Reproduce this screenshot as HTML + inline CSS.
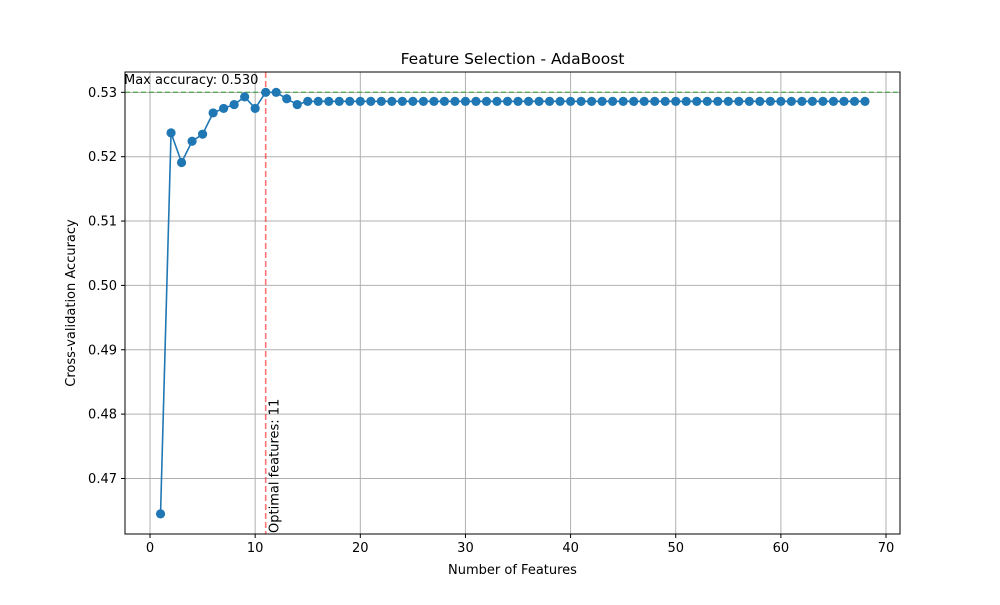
<!DOCTYPE html>
<html><head><meta charset="utf-8"><style>
body{margin:0;background:#fff;font-family:"Liberation Sans","DejaVu Sans",sans-serif}
svg text{font-family:"DejaVu Sans","Liberation Sans",sans-serif;font-size:13px;fill:#000}
</style></head><body>
<svg id="c" width="1000" height="600" xmlns="http://www.w3.org/2000/svg"></svg>
<script>
const xTicks=[0,10,20,30,40,50,60,70];
const yTicks=[0.47,0.48,0.49,0.50,0.51,0.52,0.53];
const featureCounts=[];for(let i=1;i<=68;i++)featureCounts.push(i);
const accuracy=[0.4645,0.5237,0.5191,0.5224,0.5235,0.5268,0.5275,0.5281,0.5293,0.5275,0.5300,0.5300,0.5290,0.5281,
0.5286,0.5286,0.5286,0.5286,0.5286,0.5286,0.5286,0.5286,0.5286,0.5286,0.5286,0.5286,0.5286,0.5286,0.5286,0.5286,
0.5286,0.5286,0.5286,0.5286,0.5286,0.5286,0.5286,0.5286,0.5286,0.5286,0.5286,0.5286,0.5286,0.5286,0.5286,0.5286,
0.5286,0.5286,0.5286,0.5286,0.5286,0.5286,0.5286,0.5286,0.5286,0.5286,0.5286,0.5286,0.5286,0.5286,0.5286,0.5286,
0.5286,0.5286,0.5286,0.5286,0.5286,0.5286];
const optimalFeatures=11;
const maxAccuracy=0.530;
const L=125,R=900,T=72,B=534;
const X0=-2.38,X1=71.33,Y0=0.46137,Y1=0.53316;
const sx=v=>L+(v-X0)/(X1-X0)*(R-L);
const sy=v=>B-(v-Y0)/(Y1-Y0)*(B-T);
const svg=document.getElementById('c');
const NS='http://www.w3.org/2000/svg';
function mk(t,a,p){const e=document.createElementNS(NS,t);for(const k in a)e.setAttribute(k,a[k]);(p||svg).appendChild(e);return e;}
let e;
// grid + ticks
xTicks.forEach(v=>{const x=sx(v);
e=mk('line',{x1:x,x2:x,y1:T,y2:B,stroke:'#b0b0b0','stroke-width':1});

mk('line',{x1:x,x2:x,y1:B,y2:B+4,stroke:'#000'});
e=mk('text',{x:x,y:B+18,'text-anchor':'middle'});e.textContent=v;
});
yTicks.forEach(v=>{const y=sy(v);
e=mk('line',{x1:L,x2:R,y1:y,y2:y,stroke:'#b0b0b0','stroke-width':1});

mk('line',{x1:L-4,x2:L,y1:y,y2:y,stroke:'#000'});
e=mk('text',{x:L-8,y:y+4.5,'text-anchor':'end'});e.textContent=v.toFixed(2);
});
// reference lines
e=mk('line',{x1:L,x2:R,y1:sy(maxAccuracy),y2:sy(maxAccuracy),stroke:'#2ca02c','stroke-opacity':0.7,'stroke-width':1.3,'stroke-dasharray':'5,3'});

e=mk('line',{x1:sx(optimalFeatures),x2:sx(optimalFeatures),y1:T,y2:B,stroke:'#ff0000','stroke-opacity':0.55,'stroke-width':1.6,'stroke-dasharray':'6,3'});

// series
e=mk('polyline',{points:featureCounts.map((f,i)=>sx(f)+','+sy(accuracy[i])).join(' '),fill:'none',stroke:'#1f77b4','stroke-width':1.6});

featureCounts.forEach((f,i)=>{e=mk('circle',{cx:sx(f),cy:sy(accuracy[i]),r:4.6,fill:'#1f77b4'});
});
// frame
e=mk('rect',{x:L,y:T,width:R-L,height:B-T,fill:'none',stroke:'#000','stroke-width':1});

// annotations
e=mk('text',{x:124,y:84});e.textContent='Max accuracy: '+maxAccuracy.toFixed(3);

e=mk('text',{x:0,y:0,transform:'translate('+(sx(optimalFeatures)+13)+','+(B-1)+') rotate(-90)'});e.textContent='Optimal features: '+optimalFeatures;

e=mk('text',{x:(L+R)/2,y:64,'text-anchor':'middle',style:'font-size:15.5px'});e.textContent='Feature Selection - AdaBoost';

e=mk('text',{x:(L+R)/2,y:574,'text-anchor':'middle'});e.textContent='Number of Features';

e=mk('text',{x:0,y:0,'text-anchor':'middle',transform:'translate(75,'+((T+B)/2)+') rotate(-90)'});e.textContent='Cross-validation Accuracy';

</script>
</body></html>
